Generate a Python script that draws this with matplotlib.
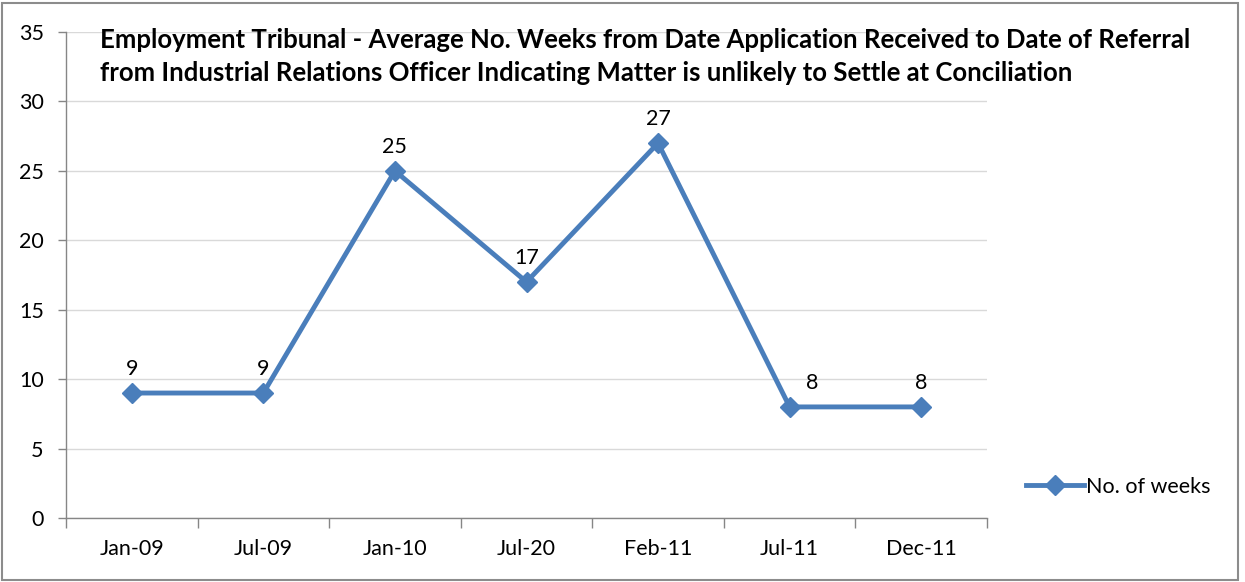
import matplotlib
matplotlib.use("Agg")
import matplotlib.pyplot as plt
from matplotlib.lines import Line2D
from matplotlib.patches import Rectangle

categories = ["Jan-09", "Jul-09", "Jan-10", "Jul-20", "Feb-11", "Jul-11", "Dec-11"]
weeks = [9, 9, 25, 17, 27, 8, 8]
series_name = "No. of weeks"
title = ("Employment Tribunal - Average No. Weeks from Date Application Received to Date of Referral\n"
         "from Industrial Relations Officer Indicating Matter is unlikely to Settle at Conciliation")
y_ticks = [0, 5, 10, 15, 20, 25, 30, 35]

# label offsets in points (style only)
label_dx = [0, 0, 0, 0, 0, 16, 0]

plt.rcParams['font.family'] = ['Lato', 'DejaVu Sans']
W, H = 1245, 582
fig = plt.figure(figsize=(W / 100, H / 100), dpi=100)
fig.patch.set_facecolor('white')
fig.patches.append(Rectangle((2 / W, 2 / H), 1236 / W, 577 / H, transform=fig.transFigure,
                             fill=False, edgecolor='#8c8c8c', linewidth=1.5))

ax = fig.add_axes([66 / W, 1 - 518 / H, (987 - 66) / W, (518 - 32) / H])
color = '#4a7ebb'
x = list(range(len(categories)))
ax.plot(x, weeks, color=color, linewidth=3.5, marker='D', markersize=10,
        markerfacecolor=color, markeredgecolor=color, zorder=3, label=series_name)
for xi, v, dx in zip(x, weeks, label_dx):
    ax.annotate(str(v), (xi, v), xytext=(dx, 10), textcoords='offset points',
                ha='center', va='bottom', fontsize=15.5, color='black')

ax.set_xlim(-0.5, len(categories) - 0.5)
ax.set_ylim(0, 35)
ax.set_yticks(y_ticks)
ax.set_yticklabels([str(t) for t in y_ticks], fontsize=15.5)
ax.set_xticks(x)
ax.set_xticklabels(categories, fontsize=15.5)
ax.set_xticks([i - 0.5 for i in range(len(categories) + 1)], minor=True)
ax.tick_params(axis='x', which='major', length=0, pad=15)
ax.tick_params(axis='x', which='minor', length=7, color='#868686', width=1)
ax.tick_params(axis='y', length=6, color='#868686', width=1, pad=10)
for s in ['top', 'right']:
    ax.spines[s].set_visible(False)
for s in ['left', 'bottom']:
    ax.spines[s].set_color('#868686')
    ax.spines[s].set_linewidth(1)
ax.grid(axis='y', color='#d9d9d9', linewidth=1)
ax.set_axisbelow(True)

fig.text(100 / W, 1 - 28 / H, title, ha='left', va='top', fontsize=18.5,
         fontweight='bold', linespacing=1.45)

handle = Line2D([], [], color=color, linewidth=3.5, marker='D', markersize=10)
fig.legend([handle], [series_name], loc='center left', bbox_to_anchor=(1026 / W, 1 - 487 / H),
           frameon=False, fontsize=15.5, handlelength=2.7, handletextpad=0.1, borderpad=0,
           borderaxespad=0)

fig.savefig('out.png', dpi=100)
